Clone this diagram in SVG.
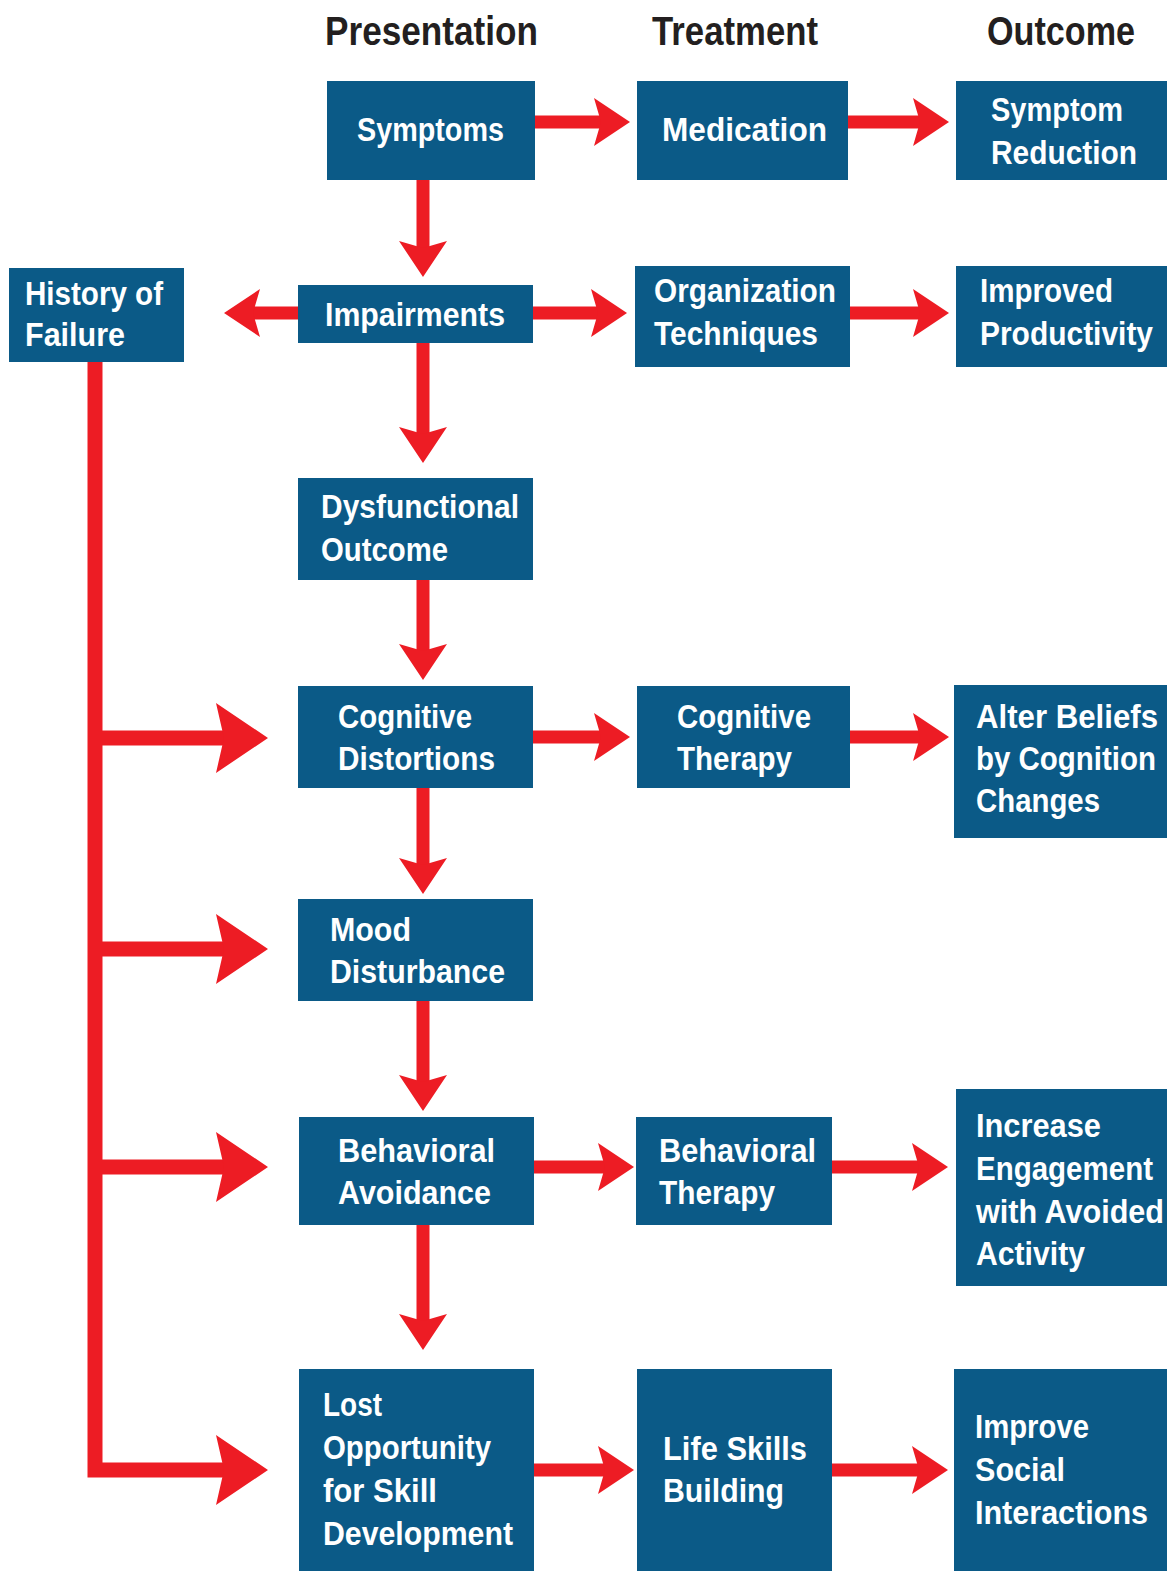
<svg xmlns="http://www.w3.org/2000/svg" width="1169" height="1571" viewBox="0 0 1169 1571">
<style>
.box{fill:#0b5a87}
.t{font-family:"Liberation Sans",Arial,sans-serif;font-weight:bold;font-size:33px;fill:#ffffff}
.h{font-family:"Liberation Sans",Arial,sans-serif;font-weight:bold;font-size:41px;fill:#231f20}
.c{fill:none;stroke:#ed1c24;stroke-width:13;stroke-linejoin:miter}
.cb{fill:none;stroke:#ed1c24;stroke-width:15;stroke-linejoin:miter}
</style>
<defs>
<marker id="ah" viewBox="0 -24 36 48" refX="7" refY="0" markerWidth="36" markerHeight="48" markerUnits="userSpaceOnUse" orient="auto">
<path d="M36,0 L0,-24 L7,0 L0,24 Z" fill="#ed1c24"/>
</marker>
<marker id="ahb" viewBox="0 -35 52 70" refX="8" refY="0" markerWidth="52" markerHeight="70" markerUnits="userSpaceOnUse" orient="auto">
<path d="M52,0 L0,-35 L8,0 L0,35 Z" fill="#ed1c24"/>
</marker>
</defs>
<rect width="1169" height="1571" fill="#ffffff"/>
<g id="headers">
<text class="h" x="325" y="45" textLength="213" lengthAdjust="spacingAndGlyphs">Presentation</text>
<text class="h" x="652" y="45" textLength="166" lengthAdjust="spacingAndGlyphs">Treatment</text>
<text class="h" x="987" y="45" textLength="148" lengthAdjust="spacingAndGlyphs">Outcome</text>
</g>
<g id="connectors">
<path class="c" d="M535,122 H601" marker-end="url(#ah)"/>
<path class="c" d="M848,122 H920" marker-end="url(#ah)"/>
<path class="c" d="M423,180 V248" marker-end="url(#ah)"/>
<path class="c" d="M298,313 H253" marker-end="url(#ah)"/>
<path class="c" d="M533,313 H598" marker-end="url(#ah)"/>
<path class="c" d="M850,313 H920" marker-end="url(#ah)"/>
<path class="c" d="M423,343 V434" marker-end="url(#ah)"/>
<path class="c" d="M423,580 V651" marker-end="url(#ah)"/>
<path class="c" d="M533,737 H601" marker-end="url(#ah)"/>
<path class="c" d="M850,737 H920" marker-end="url(#ah)"/>
<path class="c" d="M423,788 V865" marker-end="url(#ah)"/>
<path class="c" d="M423,1001 V1082" marker-end="url(#ah)"/>
<path class="c" d="M534,1167 H605" marker-end="url(#ah)"/>
<path class="c" d="M832,1167 H919" marker-end="url(#ah)"/>
<path class="c" d="M423,1225 V1321" marker-end="url(#ah)"/>
<path class="c" d="M534,1470 H605" marker-end="url(#ah)"/>
<path class="c" d="M832,1470 H919" marker-end="url(#ah)"/>
<path class="cb" d="M95,362 V1470 H224" marker-end="url(#ahb)"/>
<path class="cb" d="M95,738 H224" marker-end="url(#ahb)"/>
<path class="cb" d="M95,949 H224" marker-end="url(#ahb)"/>
<path class="cb" d="M95,1167 H224" marker-end="url(#ahb)"/>
</g>
<g id="symptoms"><rect class="box" x="327" y="81" width="208" height="99"/><text class="t" x="357" y="141" textLength="147" lengthAdjust="spacingAndGlyphs">Symptoms</text></g>
<g id="medication"><rect class="box" x="637" y="81" width="211" height="99"/><text class="t" x="662" y="141" textLength="165" lengthAdjust="spacingAndGlyphs">Medication</text></g>
<g id="symptom-reduction"><rect class="box" x="956" y="81" width="211" height="99"/><text class="t" x="991" y="121" textLength="132" lengthAdjust="spacingAndGlyphs">Symptom</text><text class="t" x="991" y="164" textLength="146" lengthAdjust="spacingAndGlyphs">Reduction</text></g>
<g id="history-of-failure"><rect class="box" x="9" y="268" width="175" height="94"/><text class="t" x="25" y="305" textLength="138" lengthAdjust="spacingAndGlyphs">History of</text><text class="t" x="25" y="346" textLength="100" lengthAdjust="spacingAndGlyphs">Failure</text></g>
<g id="impairments"><rect class="box" x="298" y="285" width="235" height="58"/><text class="t" x="325" y="326" textLength="180" lengthAdjust="spacingAndGlyphs">Impairments</text></g>
<g id="organization-techniques"><rect class="box" x="635" y="266" width="215" height="101"/><text class="t" x="654" y="302" textLength="182" lengthAdjust="spacingAndGlyphs">Organization</text><text class="t" x="654" y="345" textLength="164" lengthAdjust="spacingAndGlyphs">Techniques</text></g>
<g id="improved-productivity"><rect class="box" x="956" y="266" width="211" height="101"/><text class="t" x="980" y="302" textLength="133" lengthAdjust="spacingAndGlyphs">Improved</text><text class="t" x="980" y="345" textLength="173" lengthAdjust="spacingAndGlyphs">Productivity</text></g>
<g id="dysfunctional-outcome"><rect class="box" x="298" y="478" width="235" height="102"/><text class="t" x="321" y="518" textLength="198" lengthAdjust="spacingAndGlyphs">Dysfunctional</text><text class="t" x="321" y="561" textLength="127" lengthAdjust="spacingAndGlyphs">Outcome</text></g>
<g id="cognitive-distortions"><rect class="box" x="298" y="686" width="235" height="102"/><text class="t" x="338" y="728" textLength="134" lengthAdjust="spacingAndGlyphs">Cognitive</text><text class="t" x="338" y="770" textLength="157" lengthAdjust="spacingAndGlyphs">Distortions</text></g>
<g id="cognitive-therapy"><rect class="box" x="637" y="686" width="213" height="102"/><text class="t" x="677" y="728" textLength="134" lengthAdjust="spacingAndGlyphs">Cognitive</text><text class="t" x="677" y="770" textLength="115" lengthAdjust="spacingAndGlyphs">Therapy</text></g>
<g id="alter-beliefs"><rect class="box" x="954" y="685" width="213" height="153"/><text class="t" x="976" y="728" textLength="182" lengthAdjust="spacingAndGlyphs">Alter Beliefs</text><text class="t" x="976" y="770" textLength="180" lengthAdjust="spacingAndGlyphs">by Cognition</text><text class="t" x="976" y="812" textLength="124" lengthAdjust="spacingAndGlyphs">Changes</text></g>
<g id="mood-disturbance"><rect class="box" x="298" y="899" width="235" height="102"/><text class="t" x="330" y="941" textLength="81" lengthAdjust="spacingAndGlyphs">Mood</text><text class="t" x="330" y="983" textLength="175" lengthAdjust="spacingAndGlyphs">Disturbance</text></g>
<g id="behavioral-avoidance"><rect class="box" x="299" y="1117" width="235" height="108"/><text class="t" x="338" y="1162" textLength="157" lengthAdjust="spacingAndGlyphs">Behavioral</text><text class="t" x="338" y="1204" textLength="153" lengthAdjust="spacingAndGlyphs">Avoidance</text></g>
<g id="behavioral-therapy"><rect class="box" x="636" y="1117" width="196" height="108"/><text class="t" x="659" y="1162" textLength="157" lengthAdjust="spacingAndGlyphs">Behavioral</text><text class="t" x="659" y="1204" textLength="116" lengthAdjust="spacingAndGlyphs">Therapy</text></g>
<g id="increase-engagement"><rect class="box" x="956" y="1089" width="211" height="197"/><text class="t" x="976" y="1137" textLength="125" lengthAdjust="spacingAndGlyphs">Increase</text><text class="t" x="976" y="1180" textLength="177" lengthAdjust="spacingAndGlyphs">Engagement</text><text class="t" x="976" y="1223" textLength="188" lengthAdjust="spacingAndGlyphs">with Avoided</text><text class="t" x="976" y="1265" textLength="109" lengthAdjust="spacingAndGlyphs">Activity</text></g>
<g id="lost-opportunity"><rect class="box" x="299" y="1369" width="235" height="202"/><text class="t" x="323" y="1416" textLength="59" lengthAdjust="spacingAndGlyphs">Lost</text><text class="t" x="323" y="1459" textLength="168" lengthAdjust="spacingAndGlyphs">Opportunity</text><text class="t" x="323" y="1502" textLength="114" lengthAdjust="spacingAndGlyphs">for Skill</text><text class="t" x="323" y="1545" textLength="190" lengthAdjust="spacingAndGlyphs">Development</text></g>
<g id="life-skills-building"><rect class="box" x="637" y="1369" width="195" height="202"/><text class="t" x="663" y="1460" textLength="144" lengthAdjust="spacingAndGlyphs">Life Skills</text><text class="t" x="663" y="1502" textLength="121" lengthAdjust="spacingAndGlyphs">Building</text></g>
<g id="improve-social"><rect class="box" x="954" y="1369" width="213" height="202"/><text class="t" x="975" y="1438" textLength="114" lengthAdjust="spacingAndGlyphs">Improve</text><text class="t" x="975" y="1481" textLength="90" lengthAdjust="spacingAndGlyphs">Social</text><text class="t" x="975" y="1524" textLength="173" lengthAdjust="spacingAndGlyphs">Interactions</text></g>
</svg>
